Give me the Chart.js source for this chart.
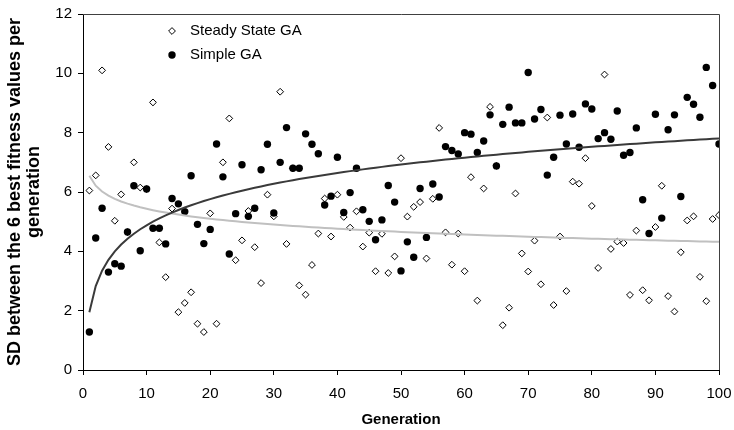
<!DOCTYPE html>
<html><head><meta charset="utf-8">
<script src="https://cdn.jsdelivr.net/npm/chart.js@4.4.0/dist/chart.umd.min.js"></script>
<style>html,body{margin:0;padding:0;background:#fff;}#wrap{width:734px;height:430px;position:relative;}</style>
</head><body><div id="wrap"><canvas id="c" width="734" height="430"></canvas></div>
<script>
const generations = [1,2,3,4,5,6,7,8,9,10,11,12,13,14,15,16,17,18,19,20,21,22,23,24,25,26,27,28,29,30,31,32,33,34,35,36,37,38,39,40,41,42,43,44,45,46,47,48,49,50,51,52,53,54,55,56,57,58,59,60,61,62,63,64,65,66,67,68,69,70,71,72,73,74,75,76,77,78,79,80,81,82,83,84,85,86,87,88,89,90,91,92,93,94,95,96,97,98,99,100];
const steadyStateGA = [6.05,6.56,10.1,7.52,5.03,5.92,4.65,7.0,6.15,6.1,9.02,4.3,3.13,5.44,1.95,2.26,2.62,1.56,1.28,5.28,1.56,7.0,8.48,3.7,4.37,5.36,4.14,2.93,5.91,5.18,9.38,4.25,6.8,2.85,2.54,3.54,4.6,5.78,4.5,5.91,5.16,4.8,5.35,4.16,4.63,3.33,4.59,3.27,3.83,7.14,5.17,5.5,5.66,3.76,5.77,8.16,4.64,3.55,4.6,3.33,6.5,2.34,6.12,8.87,6.88,1.51,2.1,5.95,3.93,3.32,4.36,2.89,8.51,2.19,4.5,2.66,6.35,6.28,7.14,5.53,3.44,9.96,4.08,4.33,4.28,2.53,4.7,2.69,2.35,4.82,6.21,2.49,1.97,3.97,5.04,5.18,3.14,2.32,5.09,5.22];
const simpleGA = [1.28,4.45,5.45,3.3,3.58,3.5,4.65,6.21,4.02,6.1,4.78,4.78,4.25,5.78,5.6,5.34,6.55,4.91,4.26,4.74,7.62,6.51,3.91,5.27,6.92,5.18,5.45,6.75,7.61,5.29,7.0,8.17,6.8,6.8,7.96,7.61,7.29,5.56,5.86,7.17,5.31,5.98,6.8,5.4,5.01,4.39,5.06,6.22,5.66,3.34,4.32,3.8,6.12,4.47,6.27,5.83,7.53,7.4,7.28,8.0,7.95,7.33,7.72,8.6,6.88,8.28,8.86,8.33,8.33,10.03,8.46,8.78,6.57,7.17,8.59,7.62,8.63,7.51,8.97,8.8,7.8,8.0,7.78,8.73,7.24,7.33,8.16,5.74,4.6,8.62,5.12,8.1,8.6,5.85,9.19,8.96,8.52,10.2,9.59,7.62];
const xTicks = [0,10,20,30,40,50,60,70,80,90,100];
const yTicks = [0,2,4,6,8,10,12];
const seriesNames = ['Steady State GA','Simple GA'];
const xTitle = 'Generation';
const yTitle = ['SD between the 6 best fitness values per','generation'];

function logFit(xs, ys){
  const n = xs.length; let sL=0,sY=0,sLL=0,sLY=0;
  for(let i=0;i<n;i++){const l=Math.log(xs[i]);sL+=l;sY+=ys[i];sLL+=l*l;sLY+=l*ys[i];}
  const b=(n*sLY-sL*sY)/(n*sLL-sL*sL); const a=(sY-b*sL)/n;
  return xs.map(x=>({x:x,y:a+b*Math.log(x)}));
}
const pts = (ys)=>generations.map((g,i)=>({x:g,y:ys[i]}));

Chart.defaults.font.family = '"Liberation Sans", Arial, sans-serif';
Chart.defaults.color = '#000';

const framePlugin = {
  id:'frame',
  afterDraw(chart){
    const {ctx, chartArea:a} = chart;
    ctx.save();
    ctx.strokeStyle='#404040'; ctx.lineWidth=1;
    ctx.beginPath();
    ctx.moveTo(a.left, a.top+0.5); ctx.lineTo(a.right+0.5, a.top+0.5); ctx.lineTo(a.right+0.5, a.bottom);
    ctx.stroke();
    const lx = a.left + 89, ly1 = a.top + 17, ly2 = a.top + 41;
    ctx.lineWidth=1; ctx.strokeStyle='#000'; ctx.fillStyle='#fff';
    ctx.beginPath(); ctx.moveTo(lx, ly1-3.4); ctx.lineTo(lx+3.4, ly1); ctx.lineTo(lx, ly1+3.4); ctx.lineTo(lx-3.4, ly1); ctx.closePath(); ctx.fill(); ctx.stroke();
    ctx.fillStyle='#000'; ctx.beginPath(); ctx.arc(lx, ly2, 3.7, 0, Math.PI*2); ctx.fill();
    ctx.font='15px "Liberation Sans", Arial, sans-serif'; ctx.textBaseline='middle'; ctx.textAlign='left';
    ctx.fillText(seriesNames[0], lx+18, ly1);
    ctx.fillText(seriesNames[1], lx+18, ly2);
    ctx.restore();
  }
};

new Chart(document.getElementById('c'), {
  type:'scatter',
  data:{datasets:[
    {label:seriesNames[0], data:pts(steadyStateGA), pointStyle:'rectRot', pointRadius:3.4, pointBackgroundColor:'#fff', pointBorderColor:'#000', pointBorderWidth:1, order:3},
    {label:seriesNames[1], data:pts(simpleGA), pointStyle:'circle', pointRadius:3.7, pointBackgroundColor:'#000', pointBorderColor:'#000', pointBorderWidth:0, order:2},
    {label:'trendSS', data:logFit(generations, steadyStateGA), showLine:true, pointRadius:0, borderColor:'#c0c0c0', borderWidth:2, fill:false, order:1},
    {label:'trendS', data:logFit(generations, simpleGA), showLine:true, pointRadius:0, borderColor:'#3a3a3a', borderWidth:2, fill:false, order:0}
  ]},
  options:{
    responsive:false, animation:false, devicePixelRatio:1,
    layout:{padding:{left:0,right:15,top:14,bottom:0}},
    plugins:{legend:{display:false}, tooltip:{enabled:false}},
    scales:{
      x:{type:'linear', min:0, max:100,
        afterBuildTicks(s){s.ticks = xTicks.map(v=>({value:v}));},
        afterFit(s){s.height=60; s.paddingLeft=0; s.paddingRight=0;},
        ticks:{font:{size:15}, padding:10, maxRotation:0, autoSkip:false},
        grid:{display:true, drawOnChartArea:false, drawTicks:true, tickLength:5, color:'#000'},
        border:{color:'#000', width:1},
        title:{display:true, text:xTitle, font:{size:15, weight:'bold'}, padding:{top:0,bottom:1}}
      },
      y:{type:'linear', min:0, max:12,
        afterBuildTicks(s){s.ticks = yTicks.map(v=>({value:v}));},
        afterFit(s){s.width=83; s.paddingTop=0; s.paddingBottom=0;},
        ticks:{font:{size:15}, padding:6},
        grid:{display:true, drawOnChartArea:false, drawTicks:true, tickLength:5, color:'#000'},
        border:{color:'#000', width:1},
        title:{display:true, text:yTitle, font:{size:18, weight:'bold', lineHeight:1.06}, padding:{top:5,bottom:0}}
      }
    }
  },
  plugins:[framePlugin]
});
</script></body></html>
